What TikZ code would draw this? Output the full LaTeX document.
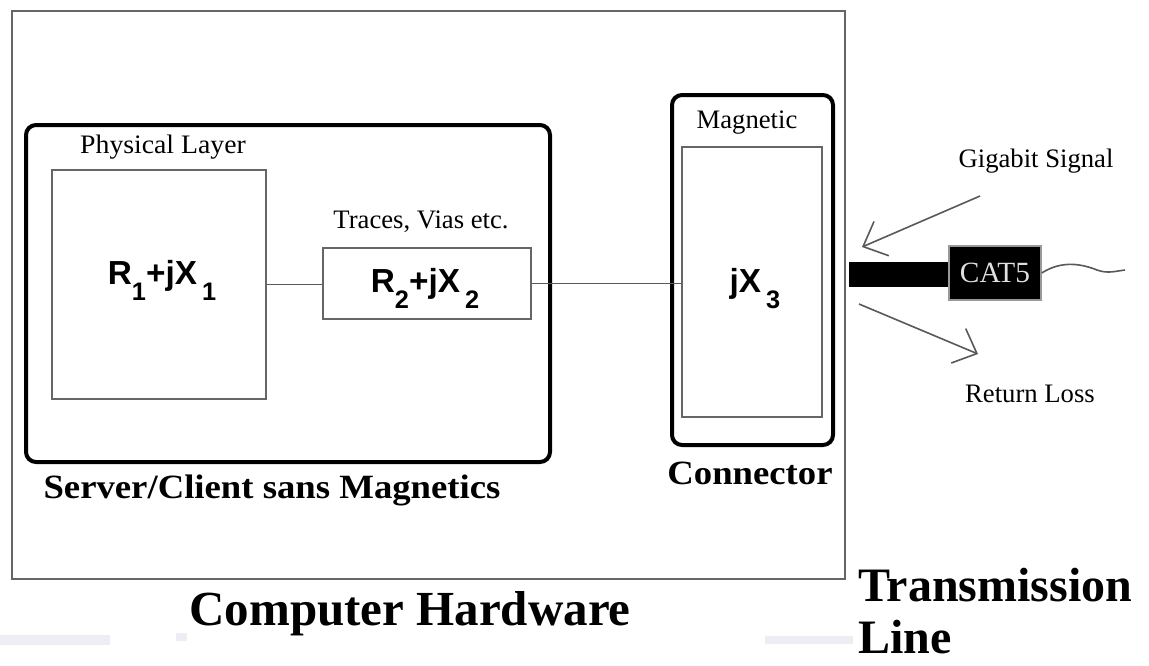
\documentclass[tikz,border=0pt]{standalone}
\usepackage{fontspec}
\setmainfont{Liberation Serif}
\newfontfamily\arialf{Liberation Sans}
\usetikzlibrary{arrows.meta}
\newcommand{\frm}{\arialf\bfseries\fontsize{25}{29}\selectfont}
\newcommand{\lowsub}[1]{\raisebox{-0.5em}{\fontsize{19}{21}\selectfont #1}}
\definecolor{linegray}{gray}{0.4}
\definecolor{wiregray}{gray}{0.35}
\definecolor{bargray}{rgb}{0.93,0.93,0.96}
\begin{document}
\begin{tikzpicture}[x=0.75pt,y=-0.75pt,
  thinbox/.style={draw=linegray, line width=1.5pt, inner sep=0pt, fill=white},
  thickbox/.style={draw=black, line width=3pt, rounded corners=7.5pt, inner sep=0pt},
  lbl/.style={inner sep=0pt, anchor=base, font=\fontsize{20}{24}\selectfont},
  blbl/.style={inner sep=0pt, anchor=base, font=\bfseries\fontsize{25.5}{30}\selectfont, xscale=1.08},
  big/.style={inner sep=0pt, font=\bfseries\fontsize{36.75}{40}\selectfont},
  tline/.style={inner sep=0pt, anchor=base west, font=\bfseries\fontsize{36}{38}\selectfont},
  wire/.style={draw=wiregray, line width=1.2pt},
  arr/.style={draw=wiregray, line width=1.2pt, -{Straight Barb[length=15pt,width=28pt]}}
]
\useasboundingbox (0,0) rectangle (1149,665);
\fill[white] (0,0) rectangle (1149,665);
% faint bars
\fill[bargray] (0,635) rectangle (110,645);
\fill[bargray] (176,633) rectangle (187,641);
\fill[bargray] (765,636) rectangle (853,644);
% outer box
\node[thinbox, fill=none, minimum width={833*0.75pt}, minimum height={568*0.75pt}] (hw) at (428.5,295) {};
% server box
\node[thickbox, minimum width={524*0.75pt}, minimum height={337*0.75pt}] (srv) at (288,293.5) {};
\node[thinbox, minimum width={214*0.75pt}, minimum height={229*0.75pt}] (phys) at (159,284.5) {};
\node[thinbox, minimum width={208*0.75pt}, minimum height={71*0.75pt}] (trc) at (427,283.5) {};
% connector
\node[thickbox, minimum width={161*0.75pt}, minimum height={350*0.75pt}] (con) at (752.5,270) {};
\node[thinbox, minimum width={140*0.75pt}, minimum height={270*0.75pt}] (mag) at (752,282) {};
% wires
\draw[wire] (phys.east) -- (phys.east -| trc.west);
\draw[wire] (trc.east) -- (trc.east -| mag.west);
% labels
\node[lbl, xscale=1.04] (lphys) at (163,153) {Physical Layer};
\node[lbl] (ltrc) at (421,228) {Traces, Vias etc.};
\node[lbl] (lmag) at (747,128) {Magnetic};
\node[inner sep=0pt, anchor=base] (z1) at (162,284) {\frm R\lowsub{1}+jX\hspace{0.15em}\lowsub{1}};
\node[inner sep=0pt, anchor=base] (z2) at (425,292) {\frm R\lowsub{2}+jX\hspace{0.15em}\lowsub{2}};
\node[inner sep=0pt, anchor=base] (z3) at (755,292) {\frm jX\hspace{0.15em}\lowsub{3}};
\node[blbl] (lsrv) at (272,498) {Server/Client sans Magnetics};
\node[blbl] (lcon) at (750,484) {Connector};
\node[big, anchor=base] (lhw) at (410,625) {Computer Hardware};
\node[tline] (ltl1) at (858,601) {Transmission};
\node[tline] (ltl2) at (858,653) {Line};
% cable
\node[fill=black, draw=none, inner sep=0pt, minimum width={100*0.75pt}, minimum height={25*0.75pt}] (plug) at (899,274.5) {};
\node[fill=black, draw=black!40, line width=1pt, inner sep=0pt, minimum width={92*0.75pt}, minimum height={54*0.75pt},
      text=black!12, font=\fontsize{22}{24}\selectfont] (cat) at (995,273) {CAT5};
\coordinate (wend) at (1125,270);
\draw[wire] (cat.east) .. controls (1062,260) and (1082,264) .. (1097,270) .. controls (1108,274) and (1116,271) .. (wend);
% signal arrows
\node[lbl] (lgs) at (1036,167) {Gigabit Signal};
\node[lbl] (lrl) at (1030,402) {Return Loss};
\coordinate (gs0) at (980,196);
\coordinate (gs1) at (862,247);
\coordinate (rl0) at (859,304);
\coordinate (rl1) at (978,354);
\draw[arr] (gs0) -- (gs1);
\draw[arr] (rl0) -- (rl1);
\end{tikzpicture}
\end{document}
